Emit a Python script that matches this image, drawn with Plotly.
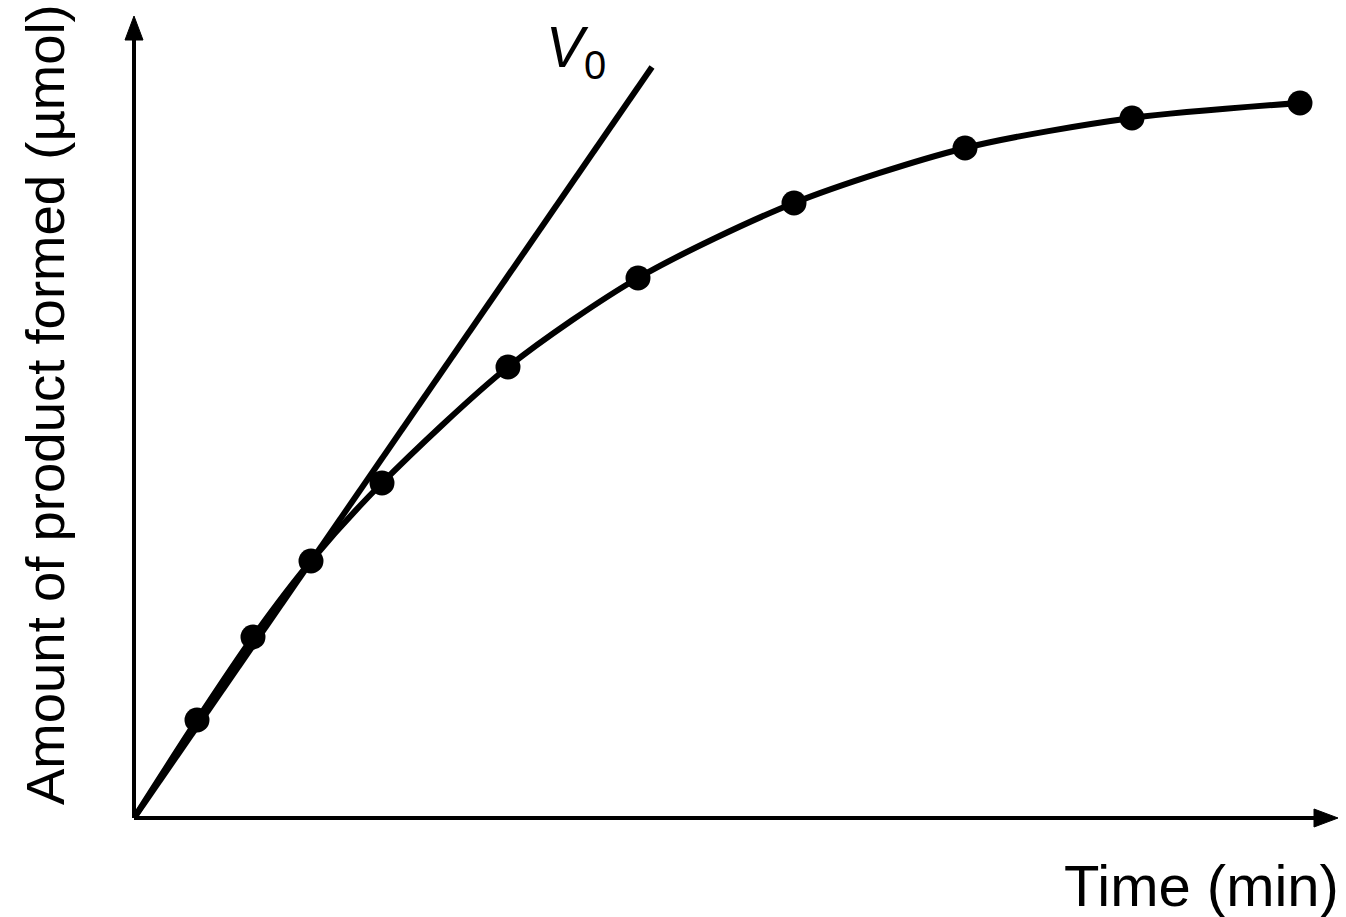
import plotly.graph_objects as go

# Data (arbitrary units)
time_pts = [0.63, 1.19, 1.77, 2.48, 3.74, 5.04, 6.60, 8.31, 9.98, 11.66]
product_pts = [0.98, 1.81, 2.57, 3.35, 4.51, 5.40, 6.15, 6.70, 7.00, 7.15]
v0_x = [0.0, 5.18]
v0_y = [0.0, 7.51]
x_max = 12.04
y_max = 8.02

FONT = "Liberation Sans, Arial, sans-serif"

W, H = 1346, 917
ML, MR, MT, MB = 134, 8, 16, 99
PW, PH = W - ML - MR, H - MT - MB

fig = go.Figure()
fig.add_trace(go.Scatter(x=v0_x, y=v0_y, mode="lines",
                         line=dict(color="black", width=6), showlegend=False))
fig.add_trace(go.Scatter(x=[0.0] + time_pts, y=[0.0] + product_pts, mode="lines",
                         line=dict(color="black", width=6, shape="spline", smoothing=0.8),
                         showlegend=False))
fig.add_trace(go.Scatter(x=time_pts, y=product_pts, mode="markers",
                         marker=dict(color="black", size=25), showlegend=False,
                         cliponaxis=False))

# axis lines with arrowheads
ah_len, ah_half = 24, 9
shapes = [
    dict(type="line", xref="paper", yref="paper", x0=0, y0=0, x1=1 - 10 / PW, y1=0,
         line=dict(color="black", width=4)),
    dict(type="line", xref="paper", yref="paper", x0=0, y0=0, x1=0, y1=1 - 10 / PH,
         line=dict(color="black", width=4)),
    dict(type="path", xref="paper", yref="paper",
         path=f"M 1 0 L {1 - ah_len / PW} {ah_half / PH} L {1 - ah_len / PW} {-ah_half / PH} Z",
         fillcolor="black", line=dict(color="black", width=1)),
    dict(type="path", xref="paper", yref="paper",
         path=f"M 0 1 L {ah_half / PW} {1 - ah_len / PH} L {-ah_half / PW} {1 - ah_len / PH} Z",
         fillcolor="black", line=dict(color="black", width=1)),
]

annotations = [
    dict(x=(544 - ML) / PW, y=(818 - 13) / PH, xref="paper", yref="paper",
         xanchor="left", yanchor="top",
         text="<i>V</i><sub>0</sub>", showarrow=False,
         font=dict(family=FONT, size=57, color="black")),
    dict(x=(45 - ML) / PW, y=(818 - 405) / PH, xref="paper", yref="paper",
         xanchor="center", yanchor="middle", textangle=-90,
         text="Amount of product formed (µmol)", showarrow=False,
         font=dict(family=FONT, size=54.5, color="black")),
    dict(x=(1341 - ML) / PW, y=(818 - 885) / PH, xref="paper", yref="paper",
         xanchor="right", yanchor="middle",
         text="Time (min)", showarrow=False,
         font=dict(family=FONT, size=58, color="black")),
]

fig.update_layout(
    width=W, height=H,
    margin=dict(l=ML, r=MR, t=MT, b=MB),
    paper_bgcolor="white", plot_bgcolor="white",
    xaxis=dict(range=[0, x_max], visible=False, fixedrange=True),
    yaxis=dict(range=[0, y_max], visible=False, fixedrange=True),
    shapes=shapes,
    annotations=annotations,
    showlegend=False,
)

fig.write_html("out.html")
